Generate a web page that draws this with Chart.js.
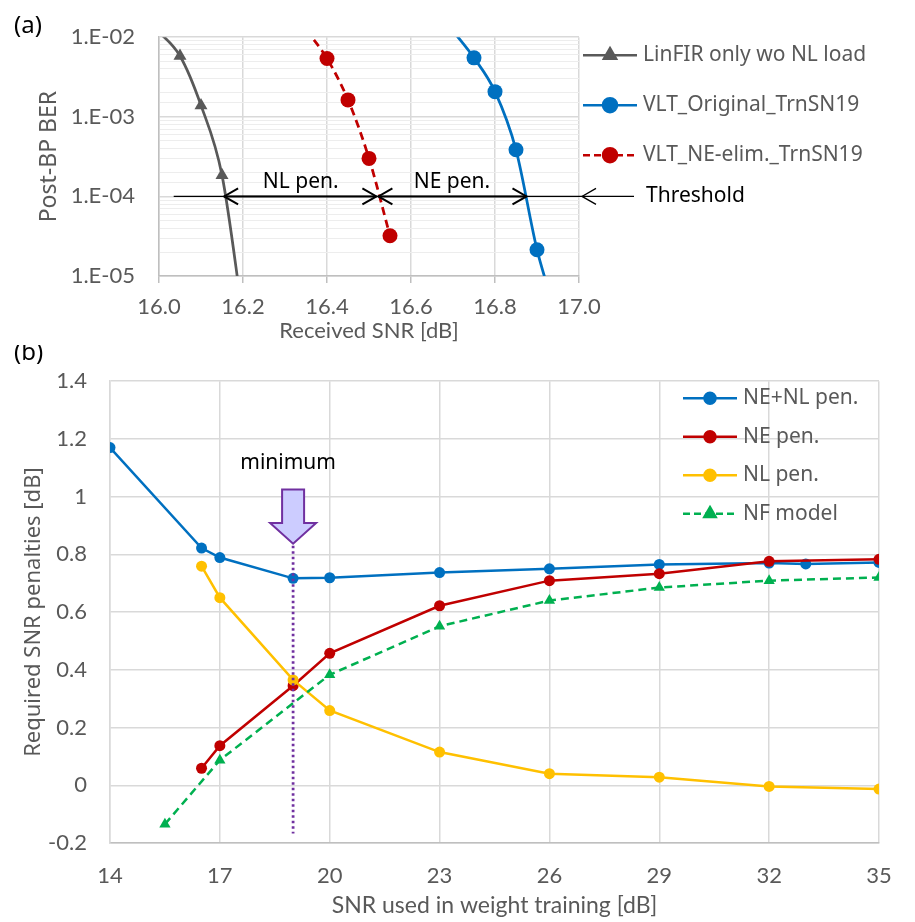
<!DOCTYPE html>
<html lang="en">
<head>
<meta charset="UTF-8">
<title>BER and SNR penalties</title>
<script src="https://cdn.jsdelivr.net/npm/chart.js"></script>
<style>
  body { margin: 0; background: #fff; }
  #wrap { position: relative; width: 915px; height: 922px; }
  canvas { position: absolute; left: 0; }
  #berChart { top: 0; }
  #penChart { top: 345px; }
</style>
</head>
<body>
<div id="wrap">
  <canvas id="berChart" width="915" height="345"></canvas>
  <canvas id="penChart" width="915" height="577"></canvas>
</div>
<script>
// ---- (a) post-BP BER vs received SNR ----
const linfirSnr = [15.99, 16.05, 16.1, 16.15, 16.2];
const linfirBer = [1.3e-2, 5.8e-3, 1.39e-3, 1.85e-4, 3e-6];
const origSnr = [16.7, 16.75, 16.8, 16.85, 16.9, 16.93];
const origBer = [1.2e-2, 5.5e-3, 2.07e-3, 3.85e-4, 2.14e-5, 6e-6];
const neElimSnr = [16.35, 16.4, 16.45, 16.5, 16.55];
const neElimBer = [1.25e-2, 5.4e-3, 1.63e-3, 3.0e-4, 3.2e-5];
const berRange = [1e-5, 1e-2];
const rxSnrRange = [16.0, 17.0];
const thresholdBer = 1e-4;
const thresholdStart = 16.035;
const penaltyEdges = [16.155, 16.52, 16.875];

// ---- (b) penalties vs training SNR ----
const totalSnr = [14, 16.5, 17, 19, 20, 23, 26, 29, 32, 33, 35];
const totalPen = [1.17, 0.822, 0.789, 0.717, 0.719, 0.737, 0.75, 0.765, 0.77, 0.767, 0.772];
const trainSnr = [16.5, 17, 19, 20, 23, 26, 29, 32, 35];
const nePen = [0.059, 0.137, 0.345, 0.457, 0.622, 0.709, 0.733, 0.776, 0.783];
const nlPen = [0.759, 0.65, 0.365, 0.259, 0.115, 0.04, 0.028, -0.004, -0.013];
const nfSnr = [15.5, 17, 20, 23, 26, 29, 32, 35];
const nfPen = [-0.135, 0.087, 0.383, 0.551, 0.64, 0.685, 0.709, 0.72];
const trainSnrTicks = [14, 17, 20, 23, 26, 29, 32, 35];
const penRange = [-0.2, 1.4];
const minimumSnr = 19;
const minimumArrow = [1.025, 0.909, 0.837]; // top, head base, tip
const minimumLine = [0.83, -0.167];

const grey = '#595959';
const gridCol = '#d9d9d9';
const txtFont = '"Noto Sans", sans-serif';
const tickFont = { family: 'Lato, sans-serif', size: 22 };

const pts = (xs, ys) => xs.map((x, i) => ({ x: x, y: ys[i] }));

// markers only for points inside the plotted range (like Excel does)
const inRangeA = r => ctx => {
  const p = ctx.raw;
  if (!p) return r;
  return (p.y <= berRange[1] && p.y >= berRange[0] && p.x >= rxSnrRange[0] && p.x <= rxSnrRange[1]) ? r : 0;
};

function drawArrowHead(ctx, x, y, dir) {
  ctx.beginPath();
  ctx.moveTo(x - dir * 14, y - 8);
  ctx.lineTo(x, y);
  ctx.lineTo(x - dir * 14, y + 8);
  ctx.stroke();
}

function drawLegend(ctx, items, x0, y0, step, size) {
  items.forEach((it, i) => {
    const y = y0 + i * step;
    ctx.save();
    ctx.strokeStyle = it.color;
    ctx.lineWidth = it.width;
    ctx.setLineDash(it.dash || []);
    ctx.beginPath();
    ctx.moveTo(x0, y);
    ctx.lineTo(x0 + 54, y);
    ctx.stroke();
    ctx.setLineDash([]);
    ctx.fillStyle = it.color;
    Chart.helpers.drawPoint(ctx, { pointStyle: it.style, radius: it.radius, rotation: 0, borderWidth: 1 }, x0 + 27, y);
    ctx.fillStyle = grey;
    ctx.font = size + 'px ' + txtFont;
    ctx.textBaseline = 'middle';
    ctx.textAlign = 'left';
    ctx.fillText(it.label, x0 + 60, y);
    ctx.restore();
  });
}

const annotA = {
  id: 'annotA',
  afterDatasetsDraw(chart) {
    const { ctx, chartArea: a, scales: { x, y } } = chart;
    const ty = y.getPixelForValue(thresholdBer);
    ctx.save();
    ctx.strokeStyle = '#000';
    // threshold line
    ctx.lineWidth = 1.3;
    ctx.beginPath();
    ctx.moveTo(x.getPixelForValue(thresholdStart), ty);
    ctx.lineTo(a.right + 55, ty);
    ctx.stroke();
    drawArrowHead(ctx, a.right + 3, ty, -1);
    // penalty arrows
    ctx.lineWidth = 2;
    const e = penaltyEdges.map(v => x.getPixelForValue(v));
    [[e[0], e[1] - 1], [e[1] + 1, e[2]]].forEach(([l, r]) => {
      ctx.beginPath();
      ctx.moveTo(l, ty);
      ctx.lineTo(r, ty);
      ctx.stroke();
      drawArrowHead(ctx, l, ty, -1);
      drawArrowHead(ctx, r, ty, 1);
    });
    ctx.fillStyle = '#000';
    ctx.font = '21px ' + txtFont;
    ctx.textAlign = 'center';
    ctx.textBaseline = 'middle';
    ctx.fillText('NL pen.', (e[0] + e[1]) / 2, ty - 14);
    ctx.fillText('NE pen.', (e[1] + e[2]) / 2, ty - 14);
    ctx.textAlign = 'left';
    ctx.fillText('Threshold', a.right + 67, ty);
    ctx.font = '24px ' + txtFont;
    ctx.fillText('(a)', 14, 26);
    ctx.restore();

    drawLegend(ctx, [
      { label: 'LinFIR only wo NL load', color: grey, width: 2.5, style: 'triangle', radius: 7 },
      { label: 'VLT_Original_TrnSN19', color: '#0070c0', width: 2.5, style: 'circle', radius: 7 },
      { label: 'VLT_NE-elim._TrnSN19', color: '#c00000', width: 2.5, style: 'circle', radius: 7, dash: [7, 4] }
    ], a.right + 4, a.top + 18, 50, 21);
  }
};

new Chart(document.getElementById('berChart'), {
  type: 'line',
  data: {
    datasets: [
      {
        label: 'LinFIR only wo NL load',
        data: pts(linfirSnr, linfirBer),
        borderColor: grey, backgroundColor: grey,
        borderWidth: 2.75, pointStyle: 'triangle',
        pointRadius: inRangeA(7.5), pointBorderWidth: 0,
        cubicInterpolationMode: 'monotone'
      },
      {
        label: 'VLT_Original_TrnSN19',
        data: pts(origSnr, origBer),
        borderColor: '#0070c0', backgroundColor: '#0070c0',
        borderWidth: 2.75, pointStyle: 'circle',
        pointRadius: inRangeA(7.5), pointBorderWidth: 0,
        cubicInterpolationMode: 'monotone'
      },
      {
        label: 'VLT_NE-elim._TrnSN19',
        data: pts(neElimSnr, neElimBer),
        borderColor: '#c00000', backgroundColor: '#c00000',
        borderWidth: 2.75, borderDash: [8, 5], pointStyle: 'circle',
        pointRadius: inRangeA(7.5), pointBorderWidth: 0,
        cubicInterpolationMode: 'monotone'
      }
    ]
  },
  options: {
    responsive: false,
    animation: false,
    layout: { padding: { left: 0, top: 25, right: 336, bottom: 0 } },
    plugins: { legend: { display: false }, tooltip: { enabled: false } },
    scales: {
      x: {
        type: 'linear', min: rxSnrRange[0], max: rxSnrRange[1],
        afterFit: s => { s.height = 69; },
        ticks: { stepSize: 0.2, color: grey, font: tickFont, padding: 11, callback: v => v.toFixed(1) },
        grid: { color: gridCol, lineWidth: 1.5, tickLength: 7, tickColor: '#bfbfbf' },
        border: { color: '#bfbfbf', width: 1.5 },
        title: { display: true, text: 'Received SNR [dB]', color: grey, font: { family: 'Lato, sans-serif', size: 22 }, padding: { top: 0, bottom: 1 } }
      },
      y: {
        type: 'logarithmic', min: berRange[0], max: berRange[1],
        afterFit: s => { s.width = 159; },
        ticks: {
          autoSkip: false, color: grey, font: tickFont, padding: 24,
          callback: v => {
            const e = Math.log10(v);
            if (Math.abs(e - Math.round(e)) > 1e-6) return '';
            return '1.E-' + String(-Math.round(e)).padStart(2, '0');
          }
        },
        grid: {
          drawTicks: false,
          color: c => {
            const e = Math.log10(c.tick.value);
            return Math.abs(e - Math.round(e)) < 1e-6 ? gridCol : '#ededed';
          },
          lineWidth: c => {
            const e = Math.log10(c.tick.value);
            return Math.abs(e - Math.round(e)) < 1e-6 ? 1.5 : 1;
          }
        },
        border: { color: '#bfbfbf', width: 1.5 },
        title: { display: true, text: 'Post-BP BER', color: grey, font: { family: txtFont, size: 23 }, padding: { top: 36, bottom: 0 } }
      }
    }
  },
  plugins: [annotA]
});

const annotB = {
  id: 'annotB',
  afterDatasetsDraw(chart) {
    const { ctx, chartArea: a, scales: { x, y } } = chart;
    const cx = x.getPixelForValue(minimumSnr);
    ctx.save();
    // dotted guide at the minimum
    ctx.strokeStyle = '#7030a0';
    ctx.lineWidth = 2.75;
    ctx.setLineDash([2.5, 3]);
    ctx.beginPath();
    ctx.moveTo(cx, y.getPixelForValue(minimumLine[0]));
    ctx.lineTo(cx, y.getPixelForValue(minimumLine[1]));
    ctx.stroke();
    ctx.setLineDash([]);
    // block arrow
    const t = y.getPixelForValue(minimumArrow[0]);
    const hb = y.getPixelForValue(minimumArrow[1]);
    const tip = y.getPixelForValue(minimumArrow[2]);
    ctx.beginPath();
    ctx.moveTo(cx - 11, t);
    ctx.lineTo(cx + 11, t);
    ctx.lineTo(cx + 11, hb);
    ctx.lineTo(cx + 23, hb);
    ctx.lineTo(cx, tip);
    ctx.lineTo(cx - 23, hb);
    ctx.lineTo(cx - 11, hb);
    ctx.closePath();
    ctx.fillStyle = '#ccccff';
    ctx.fill();
    ctx.lineWidth = 2;
    ctx.stroke();
    ctx.fillStyle = '#000';
    ctx.font = '21px ' + txtFont;
    ctx.textAlign = 'center';
    ctx.textBaseline = 'middle';
    ctx.fillText('minimum', cx - 5, t - 26);
    ctx.textAlign = 'left';
    ctx.font = '24px ' + txtFont;
    ctx.fillText('(b)', 14, 8);
    ctx.restore();

    drawLegend(ctx, [
      { label: 'NE+NL pen.', color: '#0070c0', width: 2.5, style: 'circle', radius: 5.5 },
      { label: 'NE pen.', color: '#c00000', width: 2.5, style: 'circle', radius: 5.5 },
      { label: 'NL pen.', color: '#ffc000', width: 2.5, style: 'circle', radius: 5.5 },
      { label: 'NF model', color: '#00b050', width: 2.5, style: 'triangle', radius: 6.5, dash: [7, 4] }
    ], a.right - 196, a.top + 17, 38.5, 21);
  }
};

const penSet = (label, xs, ys, color, extra) => Object.assign({
  label: label,
  data: pts(xs, ys),
  borderColor: color, backgroundColor: color,
  borderWidth: 2.5, pointStyle: 'circle', pointRadius: 5.5, pointBorderWidth: 0
}, extra || {});

new Chart(document.getElementById('penChart'), {
  type: 'line',
  data: {
    datasets: [
      penSet('NF model', nfSnr, nfPen, '#00b050', { borderDash: [8, 5], pointStyle: 'triangle', pointRadius: 6.5 }),
      penSet('NL pen.', trainSnr, nlPen, '#ffc000'),
      penSet('NE pen.', trainSnr, nePen, '#c00000'),
      penSet('NE+NL pen.', totalSnr, totalPen, '#0070c0')
    ]
  },
  options: {
    responsive: false,
    animation: false,
    layout: { padding: { left: 0, top: 18, right: 36, bottom: 0 } },
    plugins: { legend: { display: false }, tooltip: { enabled: false } },
    scales: {
      x: {
        type: 'linear', min: trainSnrTicks[0], max: trainSnrTicks[trainSnrTicks.length - 1],
        afterFit: s => { s.height = 79; },
        afterBuildTicks: s => { s.ticks = trainSnrTicks.map(v => ({ value: v })); },
        ticks: { color: grey, font: tickFont, padding: 20 },
        grid: { color: gridCol, lineWidth: 1.5, drawTicks: false },
        border: { color: '#bfbfbf', width: 1.5 },
        title: { display: true, text: 'SNR used in weight training [dB]', color: grey, font: { family: 'Lato, sans-serif', size: 23 }, padding: { top: 0, bottom: 3 } }
      },
      y: {
        min: penRange[0], max: penRange[1],
        afterFit: s => { s.width = 110; },
        ticks: { stepSize: 0.2, color: grey, font: tickFont, padding: 23, callback: v => String(Math.round(v * 10) / 10) },
        grid: { color: gridCol, lineWidth: 1.5, drawTicks: false },
        border: { color: gridCol, width: 1.5 },
        title: { display: true, text: 'Required SNR penalties [dB]', color: grey, font: { family: txtFont, size: 22 }, padding: { top: 21, bottom: 0 } }
      }
    }
  },
  plugins: [annotB]
});
</script>
</body>
</html>
